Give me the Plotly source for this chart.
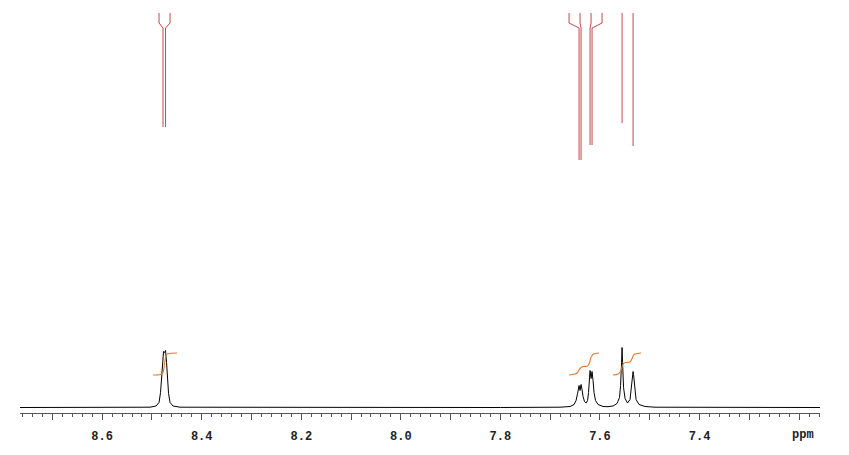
import plotly.graph_objects as go

# ---- spectrum (ppm, intensity) ----
spec_ppm = [8.765, 8.60, 8.5038, 8.4917, 8.4857, 8.4827, 8.4807, 8.4787, 8.4767, 8.4747,
            8.4726, 8.4706, 8.4686, 8.4666, 8.4636, 8.4576, 8.4435, 8.20, 8.00, 7.80,
            7.6802, 7.6601, 7.6520, 7.6480, 7.6450, 7.6430, 7.6420, 7.6400, 7.6380, 7.6360,
            7.6340, 7.6310, 7.6279, 7.6249, 7.6229, 7.6209, 7.6199, 7.6179, 7.6159, 7.6139,
            7.6119, 7.6089, 7.6038, 7.5938, 7.5838, 7.5737, 7.5657, 7.5607, 7.5586, 7.5566,
            7.5556, 7.5546, 7.5526, 7.5496, 7.5446, 7.5396, 7.5365, 7.5345, 7.5335, 7.5325,
            7.5305, 7.5275, 7.5215, 7.5094, 7.4893, 7.30, 7.158]
spec_int = [0, 0, 0.3, 1.5, 5, 15, 30, 48, 56, 55,
            57, 45, 28, 14, 5, 1.5, 0.3, 0, 0, 0,
            0.3, 1, 3, 7, 14, 20, 22, 17, 23, 18,
            11, 6, 4.5, 7, 15, 30, 37, 29, 36, 27,
            15, 7, 3, 1, 0.8, 1.5, 4, 10, 22, 45,
            60, 45, 20, 9, 4.5, 8, 20, 33, 36, 33,
            20, 8, 3, 1, 0.3, 0, 0]

# ---- peak-pick sticks ----
stick_ppm = [8.4777, 8.4726, 7.6420, 7.6380, 7.6199, 7.6159, 7.5556, 7.5335]
stick_label_ppm = [8.4857, 8.4636, 7.6621, 7.6400, 7.6179, 7.5958, 7.5556, 7.5335]
stick_end = [280.5, 280.5, 247.5, 247.5, 262.5, 262.5, 284.5, 261.5]
stick_top = 394.5
stick_knee1 = 384.5
stick_knee2 = 379.5

# ---- integral curves ----
int1_ppm = [8.4978, 8.4797, 8.4767, 8.4747, 8.4726, 8.4706, 8.4666, 8.4495]
int1_val = [32.5, 33.5, 37, 44, 50, 53, 54, 54.5]
int2_ppm = [7.6621, 7.6500, 7.6450, 7.6420, 7.6380, 7.6340, 7.6249, 7.6209, 7.6189, 7.6159, 7.6129, 7.6018]
int2_val = [32.5, 33.5, 35, 37.5, 40, 41, 41.5, 45, 49, 52, 53.5, 54.5]
int3_ppm = [7.5737, 7.5637, 7.5586, 7.5556, 7.5526, 7.5476, 7.5396, 7.5355, 7.5325, 7.5295, 7.5174]
int3_val = [32.5, 33.5, 36, 41, 44, 45, 45.5, 49, 52.5, 53.5, 54.5]

tick_vals = [8.7, 8.6, 8.5, 8.4, 8.3, 8.2, 8.1, 8.0, 7.9, 7.8, 7.7, 7.6, 7.5, 7.4, 7.3, 7.2]
tick_text = ["", "8.6", "", "8.4", "", "8.2", "", "8.0", "", "7.8", "", "7.6", "", "7.4", "", ""]

fig = go.Figure()

fig.add_trace(go.Scatter(x=spec_ppm, y=spec_int, mode="lines",
                         line=dict(color="black", width=1), hoverinfo="skip"))

sx, sy = [], []
for p, lp, e in zip(stick_ppm, stick_label_ppm, stick_end):
    sx += [lp, lp, p, p, None]
    sy += [stick_top, stick_knee1, stick_knee2, e, None]
fig.add_trace(go.Scatter(x=sx, y=sy, mode="lines",
                         line=dict(color="#C04A4A", width=1), hoverinfo="skip"))

for xs, ys in [(int1_ppm, int1_val), (int2_ppm, int2_val), (int3_ppm, int3_val)]:
    fig.add_trace(go.Scatter(x=xs, y=ys, mode="lines", line_shape="spline",
                             line=dict(color="#E07A30", width=1.1), hoverinfo="skip"))

fig.add_annotation(x=7.192, y=0, xref="x", yref="paper", yshift=-22, yanchor="middle",
                   text="ppm", showarrow=False,
                   font=dict(family="Courier New, Liberation Mono", size=12, color="#222",
                             weight="bold"))

fig.update_layout(
    width=841, height=447, showlegend=False,
    margin=dict(l=12, r=29, t=0, b=42),
    paper_bgcolor="white", plot_bgcolor="white",
    xaxis=dict(range=[8.765, 7.158], showgrid=False, zeroline=False,
               showline=True, linecolor="#555", linewidth=1,
               ticks="outside", ticklen=6, tickcolor="#555", tickwidth=1,
               tickmode="array", tickvals=tick_vals, ticktext=tick_text,
               ticklabelstandoff=6,
               tickfont=dict(family="Courier New, Liberation Mono", size=12, color="#222",
                             weight="bold"),
               minor=dict(dtick=0.02, tick0=8.0, ticks="outside", ticklen=3,
                          tickcolor="#555", tickwidth=1, showgrid=False)),
    yaxis=dict(range=[-5.5, 399.5], visible=False, showgrid=False, zeroline=False),
)

fig.write_html("out.html")
